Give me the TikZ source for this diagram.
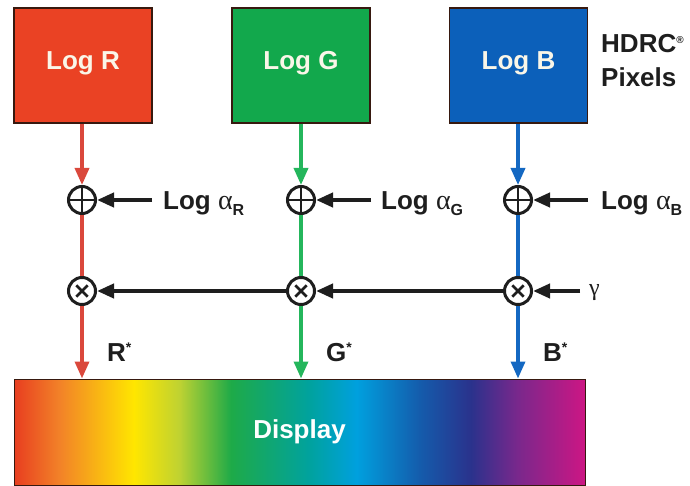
\documentclass[tikz,border=0pt]{standalone}
\usepackage{fontspec}
\setmainfont{Liberation Sans}
\newfontfamily\grk{Liberation Serif}
\usetikzlibrary{arrows.meta}
\definecolor{cR}{RGB}{234,66,36}
\definecolor{cG}{RGB}{18,168,76}
\definecolor{cB}{RGB}{12,96,186}
\definecolor{lR}{RGB}{218,72,60}
\definecolor{lG}{RGB}{36,182,92}
\definecolor{lB}{RGB}{20,104,194}
\definecolor{edge}{RGB}{55,25,15}
\definecolor{txtw}{RGB}{250,246,232}
\definecolor{ink}{RGB}{30,30,30}
\definecolor{s0}{RGB}{232,62,32}
\definecolor{s1}{RGB}{242,130,40}
\definecolor{s2}{RGB}{255,230,0}
\definecolor{s3}{RGB}{190,210,50}
\definecolor{s4}{RGB}{30,170,72}
\definecolor{s5}{RGB}{0,162,160}
\definecolor{s6}{RGB}{0,160,222}
\definecolor{s7}{RGB}{20,92,172}
\definecolor{s8}{RGB}{42,50,140}
\definecolor{s9}{RGB}{120,40,140}
\definecolor{s10}{RGB}{205,22,132}
\pgfdeclarehorizontalshading{spectrum}{100bp}{color(0bp)=(s0); color(25bp)=(s0); color(29bp)=(s1); color(35.5bp)=(s2); color(39.5bp)=(s3); color(44bp)=(s4); color(51bp)=(s5); color(55bp)=(s6); color(60.5bp)=(s7); color(65bp)=(s8); color(69bp)=(s9); color(75bp)=(s10); color(100bp)=(s10)}
\tikzset{
  big/.style={font=\fontsize{26}{29}\selectfont\bfseries},
  logbox/.style={big, text=txtw, draw=edge, line width=1.6pt, minimum width=138pt, minimum height=115pt, inner sep=0pt},
  opplus/.style={circle, draw=ink, line width=3pt, fill=white, minimum size=27pt, inner sep=0pt,
    path picture={\draw[line width=2.8pt, ink] (path picture bounding box.north) -- (path picture bounding box.south) (path picture bounding box.west) -- (path picture bounding box.east);}},
  optimes/.style={circle, draw=ink, line width=3pt, fill=white, minimum size=27pt, inner sep=0pt,
    path picture={\draw[line width=2.8pt, ink] (path picture bounding box.center) +(45:8pt) -- +(225:8pt) (path picture bounding box.center) +(135:8pt) -- +(315:8pt);}},
  arr/.style={-{Triangle[length=17pt,width=14pt]}},
  chan/.style={line width=3.5pt},
  blk/.style={arr, line width=4pt, ink},
  lbl/.style={big, text=ink, anchor=west, inner sep=0pt},
}
\begin{document}
\begin{tikzpicture}[x=1pt,y=-1pt]
\useasboundingbox (0,0) rectangle (690,486);
% source boxes
\node[logbox, fill=cR, text depth=0pt, text height=0pt] (R) at (83,65.5) {\raisebox{-4pt}{Log R}};
\node[logbox, fill=cG, text depth=0pt, text height=0pt] (G) at (301,65.5) {\raisebox{-4pt}{Log G}};
\node[logbox, fill=cB, text depth=0pt, text height=0pt] (B) at (518.5,65.5) {\raisebox{-4pt}{Log B}};
% HDRC label
\node[lbl, anchor=west] (h1) at (601,44) {HDRC\textsuperscript{\fontsize{10}{10}\selectfont ®}};
\node[lbl, anchor=west] (h2) at (601,77) {Pixels};
% display
\node[shading=spectrum, draw=edge, line width=1pt, minimum width=571pt, minimum height=106pt, inner sep=0pt,
      big, text=white] (D) at (299.5,432) {Display};
% operators
\node[opplus] (pR) at (82,200) {};
\node[opplus] (pG) at (301,200) {};
\node[opplus] (pB) at (518,200) {};
\node[optimes] (tR) at (82,291) {};
\node[optimes] (tG) at (301,291) {};
\node[optimes] (tB) at (518,291) {};
% colored channels
\draw[arr, lR, chan] (R.south -| pR) -- (pR);
\draw[lR, chan] (pR) -- (tR);
\draw[arr, lR, chan] (tR) -- (tR |- D.north);
\draw[arr, lG, chan] (G.south -| pG) -- (pG);
\draw[lG, chan] (pG) -- (tG);
\draw[arr, lG, chan] (tG) -- (tG |- D.north);
\draw[arr, lB, chan] (B.south -| pB) -- (pB);
\draw[lB, chan] (pB) -- (tB);
\draw[arr, lB, chan] (tB) -- (tB |- D.north);
% offsets
\node[lbl] (aR) at (163,204) {Log {\grk\mdseries\fontsize{28}{28}\selectfont α}\raisebox{-6pt}{\fontsize{16}{16}\selectfont R}};
\node[lbl] (aG) at (381,204) {Log {\grk\mdseries\fontsize{28}{28}\selectfont α}\raisebox{-6pt}{\fontsize{16}{16}\selectfont G}};
\node[lbl] (aB) at (601,204) {Log {\grk\mdseries\fontsize{28}{28}\selectfont α}\raisebox{-6pt}{\fontsize{16}{16}\selectfont B}};
\coordinate (sR) at (152,200);
\coordinate (sG) at (371,200);
\coordinate (sB) at (588,200);
\draw[blk] (sR) -- (pR);
\draw[blk] (sG) -- (pG);
\draw[blk] (sB) -- (pB);
% gamma
\node[lbl, font=\fontsize{24}{26}\selectfont\grk] (gam) at (589,293) {γ};
\coordinate (sg) at (580,291);
\draw[blk] (sg) -- (tB);
\draw[blk] (tB) -- (tG);
\draw[blk] (tG) -- (tR);
% outputs
\node[lbl] (oR) at (107,352) {R\textsuperscript{\fontsize{14}{14}\selectfont *}};
\node[lbl] (oG) at (326,352) {G\textsuperscript{\fontsize{14}{14}\selectfont *}};
\node[lbl] (oB) at (543,352) {B\textsuperscript{\fontsize{14}{14}\selectfont *}};
\end{tikzpicture}
\end{document}
